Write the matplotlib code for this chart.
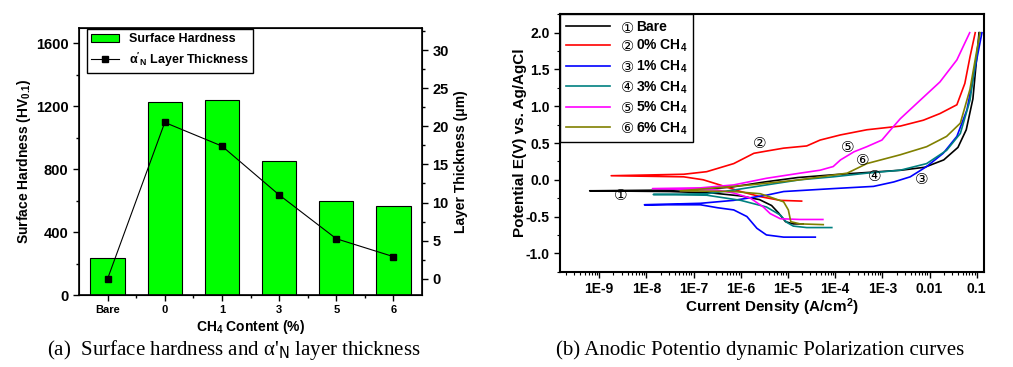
import numpy as np
import matplotlib
matplotlib.use("Agg")
import matplotlib.pyplot as plt
from matplotlib.ticker import MultipleLocator, FixedLocator, FixedFormatter, LogLocator, NullFormatter

plt.rcParams['font.family'] = ['Liberation Sans', 'DejaVu Sans', 'Noto Sans CJK SC']
plt.rcParams['mathtext.default'] = 'regular'

# ---- (a) hardness + layer thickness ----
categories = ['Bare', '0', '1', '3', '5', '6']
hardness = [238, 1226, 1239, 852, 595, 567]
thickness = [0.0, 20.5, 17.4, 11.0, 5.25, 2.9]

# ---- (b) polarization curves: (current density A/cm2, potential V) ----
# each curve runs cathodic end -> Ecorr tip -> anodic end
bare_i = [2.1e-5, 1.3e-5, 8.9e-6, 6.3e-6, 4.5e-6, 2.5e-6, 1.0e-6, 2.5e-7, 3.2e-8, 6.3e-10,
          3.2e-8, 1.6e-7, 6.3e-7, 3.2e-6, 1.6e-5, 1.0e-4, 5.0e-4, 2.5e-3, 7.9e-3, 2.0e-2,
          4.0e-2, 6.0e-2, 8.3e-2, 1.12e-1]
bare_e = [-0.60, -0.60, -0.57, -0.45, -0.35, -0.27, -0.22, -0.18, -0.16, -0.15,
          -0.14, -0.13, -0.10, -0.03, 0.03, 0.07, 0.10, 0.13, 0.17, 0.27,
          0.44, 0.68, 1.10, 2.0]

red_i = [1.95e-5, 6.9e-6, 2.6e-6, 1.0e-6, 3.6e-7, 1.6e-7, 6.2e-8, 1.8e-9,
         6.2e-8, 1.9e-7, 7.1e-7, 1.9e-6, 3.5e-6, 8.1e-6, 2.5e-5, 4.8e-5, 1.3e-4, 4.7e-4,
         2.4e-3, 7.4e-3, 1.66e-2, 3.8e-2, 5.6e-2, 7.2e-2, 9.3e-2]
red_e = [-0.29, -0.28, -0.23, -0.16, -0.07, 0.0, 0.04, 0.055,
         0.075, 0.11, 0.22, 0.36, 0.39, 0.43, 0.46, 0.54, 0.61, 0.68,
         0.73, 0.81, 0.90, 1.02, 1.31, 1.67, 2.0]

blue_i = [3.8e-5, 8.1e-6, 3.5e-6, 2.2e-6, 1.35e-6, 7.1e-7, 3.2e-7, 1.4e-7, 9.1e-9,
          1.4e-7, 7.1e-7, 3.5e-6, 8.1e-6, 9.1e-5, 6.5e-4, 1.74e-3, 3.9e-3, 8.7e-3,
          1.95e-2, 3.8e-2, 6.2e-2, 8.5e-2, 1.29e-1]
blue_e = [-0.78, -0.78, -0.75, -0.66, -0.50, -0.41, -0.38, -0.34, -0.34,
          -0.32, -0.28, -0.21, -0.16, -0.12, -0.09, -0.03, 0.04, 0.18,
          0.36, 0.59, 0.95, 1.40, 2.0]

teal_i = [8.5e-5, 2.5e-5, 1.3e-5, 9.5e-6, 6.9e-6, 3.5e-6, 1.0e-6, 1.9e-7, 1.4e-8,
          1.9e-7, 7.1e-7, 3.5e-6, 1.8e-5, 9.1e-5, 4.7e-4, 2.4e-3, 8.7e-3, 2.3e-2,
          4.5e-2, 7.2e-2, 1.17e-1]
teal_e = [-0.65, -0.65, -0.63, -0.58, -0.48, -0.37, -0.28, -0.21, -0.20,
          -0.19, -0.14, -0.07, 0.0, 0.04, 0.09, 0.13, 0.22, 0.40,
          0.63, 1.08, 2.0]

mag_i = [5.5e-5, 1.8e-5, 6.9e-6, 4.2e-6, 3.0e-6, 1.6e-6, 7.1e-7, 3.2e-7, 1.35e-8,
         1.4e-7, 7.1e-7, 3.5e-6, 1.8e-5, 4.8e-5, 9.1e-5, 1.3e-4, 2.5e-4, 4.7e-4,
         9.8e-4, 1.5e-3, 2.4e-3, 6.3e-3, 1.66e-2, 3.8e-2, 7.1e-2]
mag_e = [-0.54, -0.54, -0.53, -0.46, -0.37, -0.25, -0.18, -0.14, -0.12,
         -0.11, -0.07, 0.02, 0.09, 0.13, 0.18, 0.27, 0.38, 0.45,
         0.54, 0.68, 0.83, 1.08, 1.33, 1.63, 2.0]

olive_i = [5.6e-5, 1.8e-5, 1.15e-5, 1.02e-5, 8.1e-6, 4.9e-6, 2.6e-6, 7.1e-7, 5.2e-8,
           1.9e-7, 1.6e-6, 1.8e-5, 1.8e-4, 4.7e-4, 2.4e-3, 8.7e-3, 2.3e-2,
           4.5e-2, 7.2e-2, 1.17e-1]
olive_e = [-0.61, -0.60, -0.57, -0.41, -0.30, -0.25, -0.19, -0.16, -0.15,
           -0.12, -0.07, 0.0, 0.09, 0.22, 0.34, 0.45, 0.59,
           0.77, 1.23, 2.0]

curve_labels = ['Bare', '0% CH$_4$', '1% CH$_4$', '3% CH$_4$', '5% CH$_4$', '6% CH$_4$']
curve_colors = ['black', '#ff0000', '#0000ff', '#008080', '#ff00ff', '#808000']
marker_text = ['\u2460', '\u2461', '\u2462', '\u2463', '\u2464', '\u2465']
marker_pos = [(2.8e-9, -0.22), (2.5e-6, 0.49), (6.9e-3, 0.01),
              (6.8e-4, 0.05), (1.8e-4, 0.44), (3.9e-4, 0.26)]
xtick_vals = [1e-9, 1e-8, 1e-7, 1e-6, 1e-5, 1e-4, 1e-3, 1e-2, 1e-1]
xtick_text = ['1E-9', '1E-8', '1E-7', '1E-6', '1E-5', '1E-4', '1E-3', '0.01', '0.1']

circ_family = ['DejaVu Sans', 'Noto Sans CJK SC']

fig = plt.figure(figsize=(10.13, 3.67), dpi=100)

# ---------------- left panel ----------------
ax1 = fig.add_axes([0.078, 0.196, 0.3386, 0.728])
x = np.arange(len(categories))
bars = ax1.bar(x, hardness, width=0.6, color='#00ff00', edgecolor='black', linewidth=0.8,
               label='Surface Hardness')
ax1.set_xlim(-0.5, 5.5)
ax1.set_ylim(0, 1696)
ax1.yaxis.set_major_locator(MultipleLocator(400))
ax1.yaxis.set_minor_locator(MultipleLocator(200))
ax1.set_xticks(x)
ax1.set_xticklabels(categories, fontsize=8, fontweight='bold')
ax1.xaxis.set_minor_locator(FixedLocator(x[:-1] + 0.5))
ax1.tick_params(axis='y', labelsize=10.5)
for t in ax1.get_yticklabels():
    t.set_fontweight('bold')
ax1.tick_params(which='both', direction='out', top=False, right=False)
ax1.tick_params(which='major', length=4, width=1)
ax1.tick_params(which='minor', length=2.5, width=1)
ax1.set_ylabel('Surface Hardness (HV$_{0.1}$)', fontsize=10, fontweight='bold', labelpad=2)
ax1.set_xlabel('CH$_4$ Content (%)', fontsize=10, fontweight='bold', labelpad=2)
for s in ax1.spines.values():
    s.set_linewidth(1.2)

ax2 = ax1.twinx()
line, = ax2.plot(x, thickness, color='black', linewidth=0.8, marker='s', markersize=5,
                 label="$\\alpha'_N$ Layer Thickness")
ax2.set_ylim(-2.14, 32.9)
ax2.yaxis.set_major_locator(MultipleLocator(5))
ax2.yaxis.set_minor_locator(MultipleLocator(2.5))
ax2.tick_params(which='both', direction='out')
ax2.tick_params(which='major', length=4, width=1, labelsize=10.5)
ax2.tick_params(which='minor', length=2.5, width=1)
for t in ax2.get_yticklabels():
    t.set_fontweight('bold')
ax2.set_ylabel('Layer Thickness (\u03bcm)', fontsize=10, fontweight='bold', labelpad=4)
leg1 = ax2.legend([bars, line], ['Surface Hardness', "$\\alpha'_N$ Layer Thickness"],
                  loc='upper left', bbox_to_anchor=(0.023, 0.996), borderaxespad=0,
                  fontsize=9, fancybox=False, edgecolor='black', framealpha=1,
                  borderpad=0.35, handlelength=2.2, labelspacing=0.4)
leg1.get_frame().set_linewidth(1.0)
for t in leg1.get_texts():
    t.set_fontweight('bold')

# ---------------- right panel ----------------
ax3 = fig.add_axes([0.5528, 0.2597, 0.4186, 0.7013])
curves = [(bare_i, bare_e), (red_i, red_e), (blue_i, blue_e),
          (teal_i, teal_e), (mag_i, mag_e), (olive_i, olive_e)]
for (ci, ce), lab, col in zip(curves, curve_labels, curve_colors):
    ax3.plot(ci, ce, color=col, linewidth=1.2, label=lab)
ax3.set_xscale('log')
ax3.set_xlim(10 ** -9.83, 10 ** -0.845)
ax3.set_ylim(-1.25, 2.25)
ax3.xaxis.set_major_locator(FixedLocator(xtick_vals))
ax3.xaxis.set_major_formatter(FixedFormatter(xtick_text))
ax3.xaxis.set_minor_locator(LogLocator(base=10, subs=np.arange(2, 10)))
ax3.xaxis.set_minor_formatter(NullFormatter())
ax3.yaxis.set_major_locator(MultipleLocator(0.5))
ax3.yaxis.set_minor_locator(MultipleLocator(0.25))
ax3.yaxis.set_major_formatter(matplotlib.ticker.FormatStrFormatter('%.1f'))
ax3.tick_params(which='both', direction='out', top=False, right=False)
ax3.tick_params(which='major', length=4, width=1, labelsize=10)
ax3.tick_params(which='minor', length=2, width=0.8)
for t in ax3.get_xticklabels() + ax3.get_yticklabels():
    t.set_fontweight('bold')
for s in ax3.spines.values():
    s.set_linewidth(1.5)
ax3.set_xlabel('Current Density (A/cm$^2$)', fontsize=11, fontweight='bold', labelpad=0)
ax3.set_ylabel('Potential E(V) vs. Ag/AgCl', fontsize=11, fontweight='bold', labelpad=-1)
for txt, (px, py) in zip(marker_text, marker_pos):
    ax3.text(px, py, txt, fontsize=11, ha='center', va='center', family=circ_family)
leg2 = ax3.legend(loc='upper left', bbox_to_anchor=(0, 1), borderaxespad=0, fontsize=10,
                  fancybox=False, edgecolor='black', framealpha=1, handlelength=3.2,
                  handletextpad=1.9, labelspacing=0.3, borderpad=0.4)
leg2.get_frame().set_linewidth(1.0)
for t in leg2.get_texts():
    t.set_fontweight('bold')

# circled numbers in front of the legend labels
fig.canvas.draw()
inv = fig.transFigure.inverted()
for t, txt in zip(leg2.get_texts(), marker_text):
    bb = t.get_window_extent()
    fx, fy = inv.transform((bb.x0 - 2, bb.y1 - 1))
    fig.text(fx, fy, txt, fontsize=10.5, ha='right', va='top', family=circ_family)

# ---------------- captions ----------------
fig.text(0.046, 0.047, "(a)  Surface hardness and \u03b1'$_\\mathrm{N}$ layer thickness",
         fontsize=15, family='Liberation Serif', ha='left', va='center')
fig.text(0.549, 0.047, '(b) Anodic Potentio dynamic Polarization curves',
         fontsize=15, family='Liberation Serif', ha='left', va='center')

fig.savefig('out.png', dpi=100)
